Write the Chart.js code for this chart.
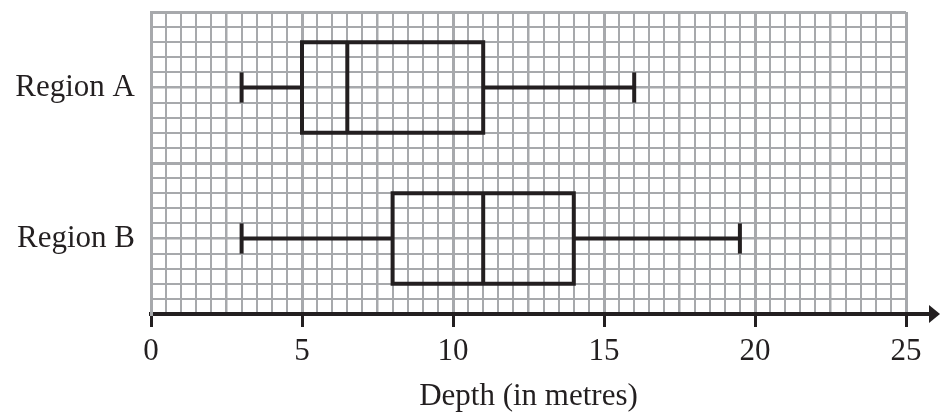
<!DOCTYPE html>
<html>
<head>
<meta charset="utf-8">
<script src="https://cdn.jsdelivr.net/npm/chart.js@4"></script>
<style>
  html, body { margin: 0; padding: 0; background: #fff; }
  #wrap { width: 940px; height: 418px; }
</style>
</head>
<body>
<div id="wrap"><canvas id="boxChart" width="940" height="418"></canvas></div>
<script>
// box plot data (depth in metres)
const categories = ['Region A', 'Region B'];
const mins    = [3, 3];
const q1s     = [5, 8];
const medians = [6.5, 11];
const q3s     = [11, 14];
const maxs    = [16, 19.5];
const xTicks  = [0, 5, 10, 15, 20, 25];

const INK = '#231f20';
const GRID = '#a7a9ac';
const ROWS = 20;          // graph paper rows
const BOX_HALF = 3;       // box half height in rows
const CAP_HALF = 1;       // whisker cap half height in rows

// centre row of each category, top to bottom
function rowCenter(i) {
    return ROWS - (i * ROWS / categories.length + ROWS / categories.length / 2);
}

function seg(points, cap) {
    return {
        data: points,
        showLine: true,
        borderColor: INK,
        borderWidth: 4,
        pointRadius: 0,
        pointHoverRadius: 0,
        fill: false,
        tension: 0,
        borderJoinStyle: 'miter',
        borderCapStyle: cap || 'butt'
    };
}

const datasets = [];
categories.forEach((name, i) => {
    const yc = rowCenter(i);
    const lo = yc - BOX_HALF, hi = yc + BOX_HALF;
    // box
    datasets.push(seg([
        { x: q1s[i], y: lo }, { x: q3s[i], y: lo },
        { x: q3s[i], y: hi }, { x: q1s[i], y: hi }, { x: q1s[i], y: lo }
    ], 'square'));
    // median
    datasets.push(seg([{ x: medians[i], y: lo }, { x: medians[i], y: hi }]));
    // whiskers
    datasets.push(seg([{ x: mins[i], y: yc }, { x: q1s[i], y: yc }]));
    datasets.push(seg([{ x: q3s[i], y: yc }, { x: maxs[i], y: yc }]));
    // caps
    datasets.push(seg([{ x: mins[i], y: yc - CAP_HALF }, { x: mins[i], y: yc + CAP_HALF }]));
    datasets.push(seg([{ x: maxs[i], y: yc - CAP_HALF }, { x: maxs[i], y: yc + CAP_HALF }]));
});

function gridWidth(v, major, medium) {
    if (Math.abs(v % major) < 1e-9) return 3;
    if (Math.abs(v % medium) < 1e-9) return 2.5;
    return 2;
}

// axis arrow past the end of the x axis
const arrowPlugin = {
    id: 'arrow',
    afterDraw(chart) {
        const { ctx, chartArea } = chart;
        const y = chartArea.bottom;
        const tipX = chart.width;
        ctx.save();
        ctx.strokeStyle = INK;
        ctx.fillStyle = INK;
        ctx.lineWidth = 4;
        ctx.beginPath();
        ctx.moveTo(chartArea.right, y);
        ctx.lineTo(tipX - 8, y);
        ctx.stroke();
        ctx.beginPath();
        ctx.moveTo(tipX - 11, y - 9);
        ctx.lineTo(tipX, y);
        ctx.lineTo(tipX - 11, y + 9);
        ctx.closePath();
        ctx.fill();
        ctx.restore();
    }
};

const font = { family: "'Liberation Serif', 'Times New Roman', serif", size: 31 };

new Chart(document.getElementById('boxChart').getContext('2d'), {
    type: 'scatter',
    data: { datasets },
    options: {
        responsive: false,
        animation: false,
        events: [],
        layout: { padding: { top: 12, right: 34, left: 0, bottom: 0 } },
        plugins: { legend: { display: false }, tooltip: { enabled: false } },
        scales: {
            x: {
                type: 'linear',
                min: 0,
                max: 25,
                afterFit: s => {
                    s.height = 104;
                    s.paddingLeft = 0;
                    s.paddingRight = 0;
                },
                ticks: {
                    stepSize: 0.5,
                    autoSkip: false,
                    maxRotation: 0,
                    minRotation: 0,
                    padding: 6,
                    color: INK,
                    font,
                    callback: v => xTicks.includes(v) ? String(v) : ''
                },
                grid: {
                    color: GRID,
                    lineWidth: c => gridWidth(c.tick.value, 5, 2.5),
                    drawTicks: true,
                    tickLength: 13,
                    tickWidth: 3,
                    tickColor: c => xTicks.includes(c.tick.value) ? INK : 'rgba(0,0,0,0)'
                },
                border: { display: true, color: INK, width: 4 },
                title: {
                    display: true,
                    text: 'Depth (in metres)',
                    color: INK,
                    font,
                    padding: { top: 0, bottom: 3 }
                }
            },
            y: {
                type: 'linear',
                min: 0,
                max: ROWS,
                afterFit: s => {
                    s.width = 151;
                    s.paddingTop = 0;
                    s.paddingBottom = 0;
                },
                ticks: {
                    stepSize: 1,
                    autoSkip: false,
                    padding: 16,
                    color: INK,
                    font,
                    callback: v => {
                        const i = categories.findIndex((c, k) => rowCenter(k) === v);
                        return i >= 0 ? categories[i] : '';
                    }
                },
                grid: {
                    color: GRID,
                    lineWidth: c => gridWidth(c.tick.value, 10, 5),
                    drawTicks: false
                },
                border: { display: true, color: GRID, width: 3 }
            }
        }
    },
    plugins: [arrowPlugin]
});
</script>
</body>
</html>
